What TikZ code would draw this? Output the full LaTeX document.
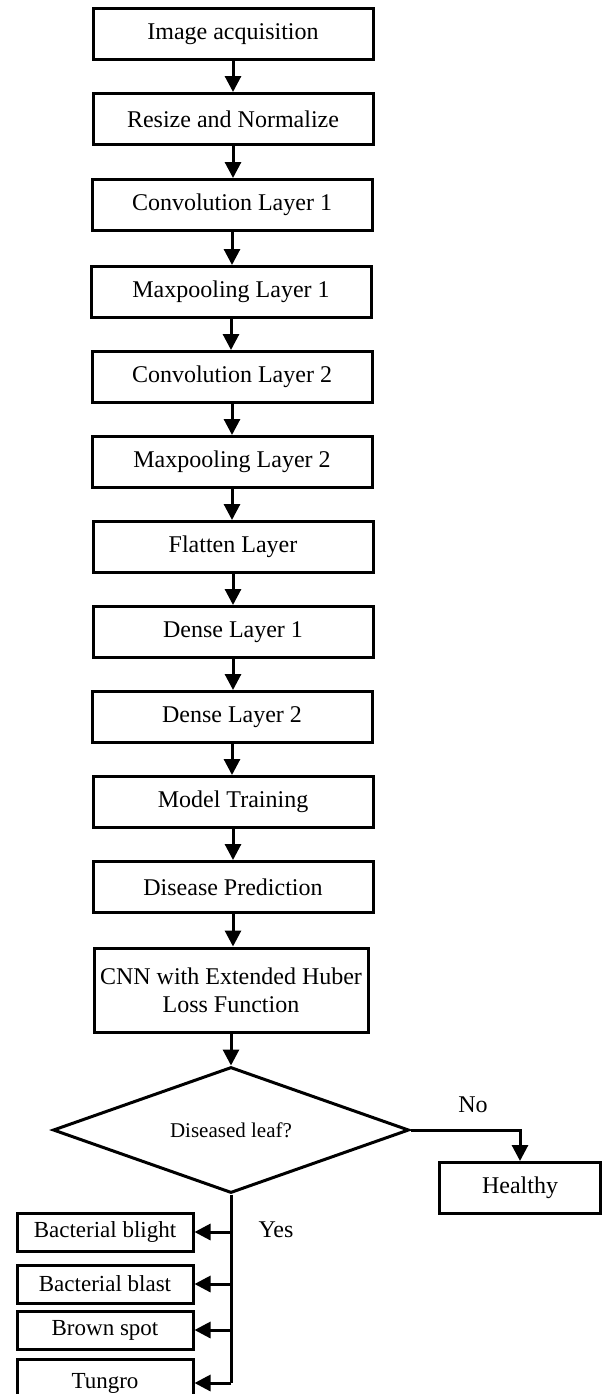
\documentclass[tikz,border=0pt]{standalone}
\usepackage{fontspec}
\setmainfont{Liberation Serif}
\usetikzlibrary{arrows.meta,shapes.geometric}
\begin{document}
\begin{tikzpicture}[x=0.5pt,y=-0.5pt,
  box/.style={draw,line width=1.5pt,minimum width=140pt,minimum height=25.5pt,inner sep=2pt,font=\fontsize{12}{14}\selectfont,align=center},
  sbox/.style={draw,line width=1.5pt,minimum width=88pt,minimum height=19pt,inner sep=1pt,font=\fontsize{11.5}{13}\selectfont},
  arr/.style={line width=1.5pt,-{Triangle[length=8pt,width=8pt]}},
  lin/.style={line width=1.5pt},
  lbl/.style={font=\fontsize{12}{14}\selectfont}]
\useasboundingbox (0,0) rectangle (606,1394);
\node[box] (n1) at (233,34) {Image acquisition};
\node[box] (n2) at (233,119) {Resize and Normalize};
\node[box] (n3) at (232,205) {Convolution Layer 1};
\node[box] (n4) at (231,292) {Maxpooling Layer 1};
\node[box] (n5) at (232,377) {Convolution Layer 2};
\node[box] (n6) at (232,462) {Maxpooling Layer 2};
\node[box] (n7) at (233,547) {Flatten Layer};
\node[box] (n8) at (233,632) {Dense Layer 1};
\node[box] (n9) at (232,717) {Dense Layer 2};
\node[box] (n10) at (233,802) {Model Training};
\node[box] (n11) at (233,887) {Disease Prediction};
\node[box,minimum width=137pt,minimum height=42pt] (n12) at (231,990) {CNN with Extended Huber\\Loss Function};
\node[draw,diamond,aspect=2.8,line width=1.5pt,minimum width=178pt,minimum height=63pt,inner sep=0pt,font=\fontsize{10.5}{12}\selectfont] (dia) at (231,1130) {Diseased leaf?};
\node[box,minimum width=80.5pt] (h) at (520,1188) {Healthy};
\node[sbox] (b1) at (105,1232) {Bacterial blight};
\node[sbox] (b2) at (105,1284) {Bacterial blast};
\node[sbox] (b3) at (105,1330) {Brown spot};
\node[sbox,minimum height=24pt] (b4) at (105,1383) {Tungro};
\foreach \a/\b in {n1/n2,n2/n3,n3/n4,n4/n5,n5/n6,n6/n7,n7/n8,n8/n9,n9/n10,n10/n11,n11/n12}
  \draw[arr] (\a.south) -- (\a.south |- \b.north);
\draw[arr] (n12.south) -- (dia.north);
\draw[arr] (dia.east) -| (h.north);
\node[lbl] (no) at (473,1105) {No};
\node[lbl] (yes) at (276,1230) {Yes};
\coordinate (jb) at (dia.south |- b4.east);
\draw[lin] (dia.south) -- (jb);
\draw[arr] (dia.south |- b1.east) -- (b1.east);
\draw[arr] (dia.south |- b2.east) -- (b2.east);
\draw[arr] (dia.south |- b3.east) -- (b3.east);
\draw[arr] (jb) -- (b4.east);
\end{tikzpicture}
\end{document}
